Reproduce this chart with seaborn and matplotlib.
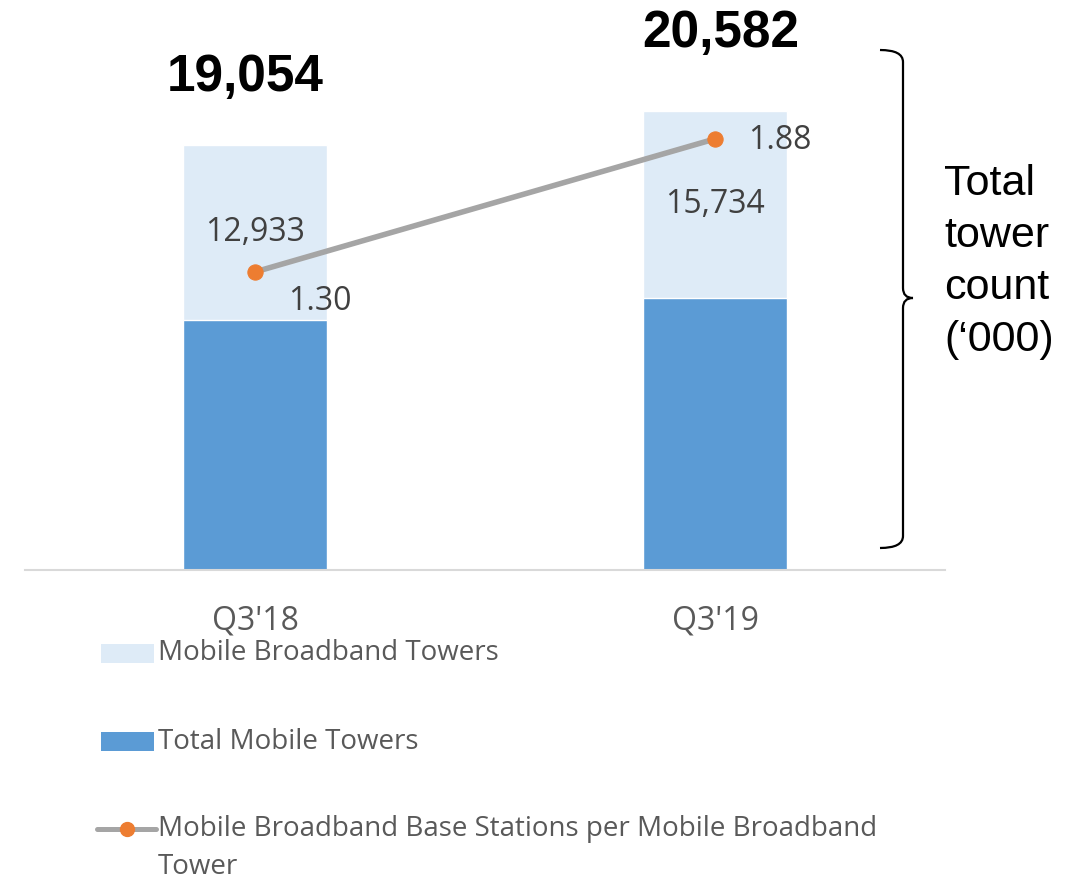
import numpy as np
import pandas as pd
import matplotlib
matplotlib.use("Agg")
import matplotlib.pyplot as plt
import matplotlib.transforms as mtransforms
from matplotlib.path import Path
from matplotlib.patches import PathPatch, Rectangle
from matplotlib.lines import Line2D
import seaborn as sns

# ---- data ----
quarters = ["Q3'18", "Q3'19"]
total_tower_count = [19054, 20582]          # bar totals (bold labels)
total_mobile_towers = [11200, 12200]        # dark segment
broadband_labels = [12933, 15734]           # data labels of light segment
bs_per_tower = [1.30, 1.88]                 # line series (secondary axis)

broadband_segment = [t - m for t, m in zip(total_tower_count, total_mobile_towers)]

sns.set_theme(style="white")
plt.rcParams['font.family'] = ['Open Sans', 'DejaVu Sans']

W, H = 1084, 880
fig = plt.figure(figsize=(W / 100, H / 100), dpi=100)
ax = fig.add_axes([25 / W, 310 / H, 920 / W, 540 / H])

LIGHT = "#deebf7"
DARK = "#5b9bd5"
GRAY_LINE = "#a5a5a5"
ORANGE = "#ed7d31"
TXT = "#404040"

df = pd.DataFrame({"quarter": quarters, "total": total_tower_count,
                   "mobile": total_mobile_towers, "bb": broadband_segment,
                   "ratio": bs_per_tower})

sns.barplot(data=df, x="quarter", y="total", color=LIGHT, width=0.313,
            saturation=1, ax=ax)
sns.barplot(data=df, x="quarter", y="mobile", color=DARK, width=0.313,
            saturation=1, ax=ax)

ax.set_xlim(-0.5, 1.5)
ax.set_ylim(0, 540 / 0.0223)
ax.set_xlabel("")
ax.set_ylabel("")
ax.set_yticks([])
for s in ["top", "right", "left"]:
    ax.spines[s].set_visible(False)
ax.spines["bottom"].set_color("#d9d9d9")
ax.spines["bottom"].set_linewidth(1.5)
ax.tick_params(axis="x", length=0, pad=25, labelsize=23, labelcolor="#595959")

total_offsets = [(-7, 49), (4, 56)]
# labels in light segment (centered)
for i, (m, t, lab) in enumerate(zip(total_mobile_towers, total_tower_count, broadband_labels)):
    ax.text(i, (m + t) / 2, f"{lab:,}", ha="center", va="center",
            fontsize=23, color=TXT)
    ax.annotate(f"{t:,}", xy=(i, t), xytext=total_offsets[i], textcoords="offset points",
                ha="center", va="center", fontsize=37, fontweight="bold",
                color="black", family=["Liberation Sans", "DejaVu Sans"])

# secondary axis line
ax2 = ax.twinx()
sns.lineplot(x=[0, 1], y=bs_per_tower, ax=ax2, color=GRAY_LINE, linewidth=4,
             marker="o", markersize=11, markerfacecolor=ORANGE,
             markeredgecolor=ORANGE, legend=False)
ax2.set_xlim(-0.5, 1.5)
ax2.set_ylim(0, 540 / 229.3)
ax2.set_yticks([])
for s in ax2.spines.values():
    s.set_visible(False)
for i, v in enumerate(bs_per_tower):
    off = (47, -21) if i == 0 else (47, -1.5)
    ax2.annotate(f"{v:.2f}", xy=(i, v), xytext=off, textcoords="offset points",
                 ha="center", va="center", fontsize=23, color=TXT)

# pixel transform (top-left origin)
px = mtransforms.Affine2D().scale(1 / W, -1 / H).translate(0, 1) + fig.transFigure

# curly brace
verts = [(880, 50), (903, 50), (903, 62),
         (903, 288),
         (903, 298), (913, 298), (913, 298)]
codes = [Path.MOVETO, Path.CURVE3, Path.CURVE3, Path.LINETO,
         Path.CURVE3, Path.CURVE3, Path.LINETO]
verts2 = [(913, 298), (903, 298), (903, 308),
          (903, 536),
          (903, 548), (880, 548)]
codes2 = [Path.MOVETO, Path.CURVE3, Path.CURVE3, Path.LINETO,
          Path.CURVE3, Path.CURVE3]
for v, c in [(verts, codes), (verts2, codes2)]:
    fig.patches.append(PathPatch(Path(v, c), transform=px, fill=False,
                                 edgecolor="black", linewidth=1.6))

fig.text(944 / W, 1 - 262 / H, "Total\ntower\ncount\n(\u2018000)", ha="left",
         va="center", fontsize=31, color="black", linespacing=1.38,
         family=["Liberation Sans", "DejaVu Sans"])

# legend (manual, figure pixel coords)
LEG = "#595959"
fig.patches.append(Rectangle((101, 644), 53, 19, transform=px, facecolor=LIGHT,
                             edgecolor="none"))
fig.patches.append(Rectangle((101, 732), 53, 19, transform=px, facecolor=DARK,
                             edgecolor="none"))
fig.lines.append(Line2D([97, 156], [829, 829], transform=px, color=GRAY_LINE,
                        linewidth=3.6, solid_capstyle="round"))
fig.lines.append(Line2D([127], [829], transform=px, marker="o", markersize=10,
                        color=ORANGE, linestyle="none"))
LFS = 20
fig.text(158 / W, 1 - 653 / H, "Mobile Broadband Towers", ha="left", va="center",
         fontsize=LFS, color=LEG)
fig.text(158 / W, 1 - 742 / H, "Total Mobile Towers", ha="left", va="center",
         fontsize=LFS, color=LEG)
fig.text(158 / W, 1 - 829 / H, "Mobile Broadband Base Stations per Mobile Broadband",
         ha="left", va="center", fontsize=LFS, color=LEG)
fig.text(158 / W, 1 - 867 / H, "Tower", ha="left", va="center",
         fontsize=LFS, color=LEG)

fig.savefig("out.png", dpi=100, facecolor="white")
